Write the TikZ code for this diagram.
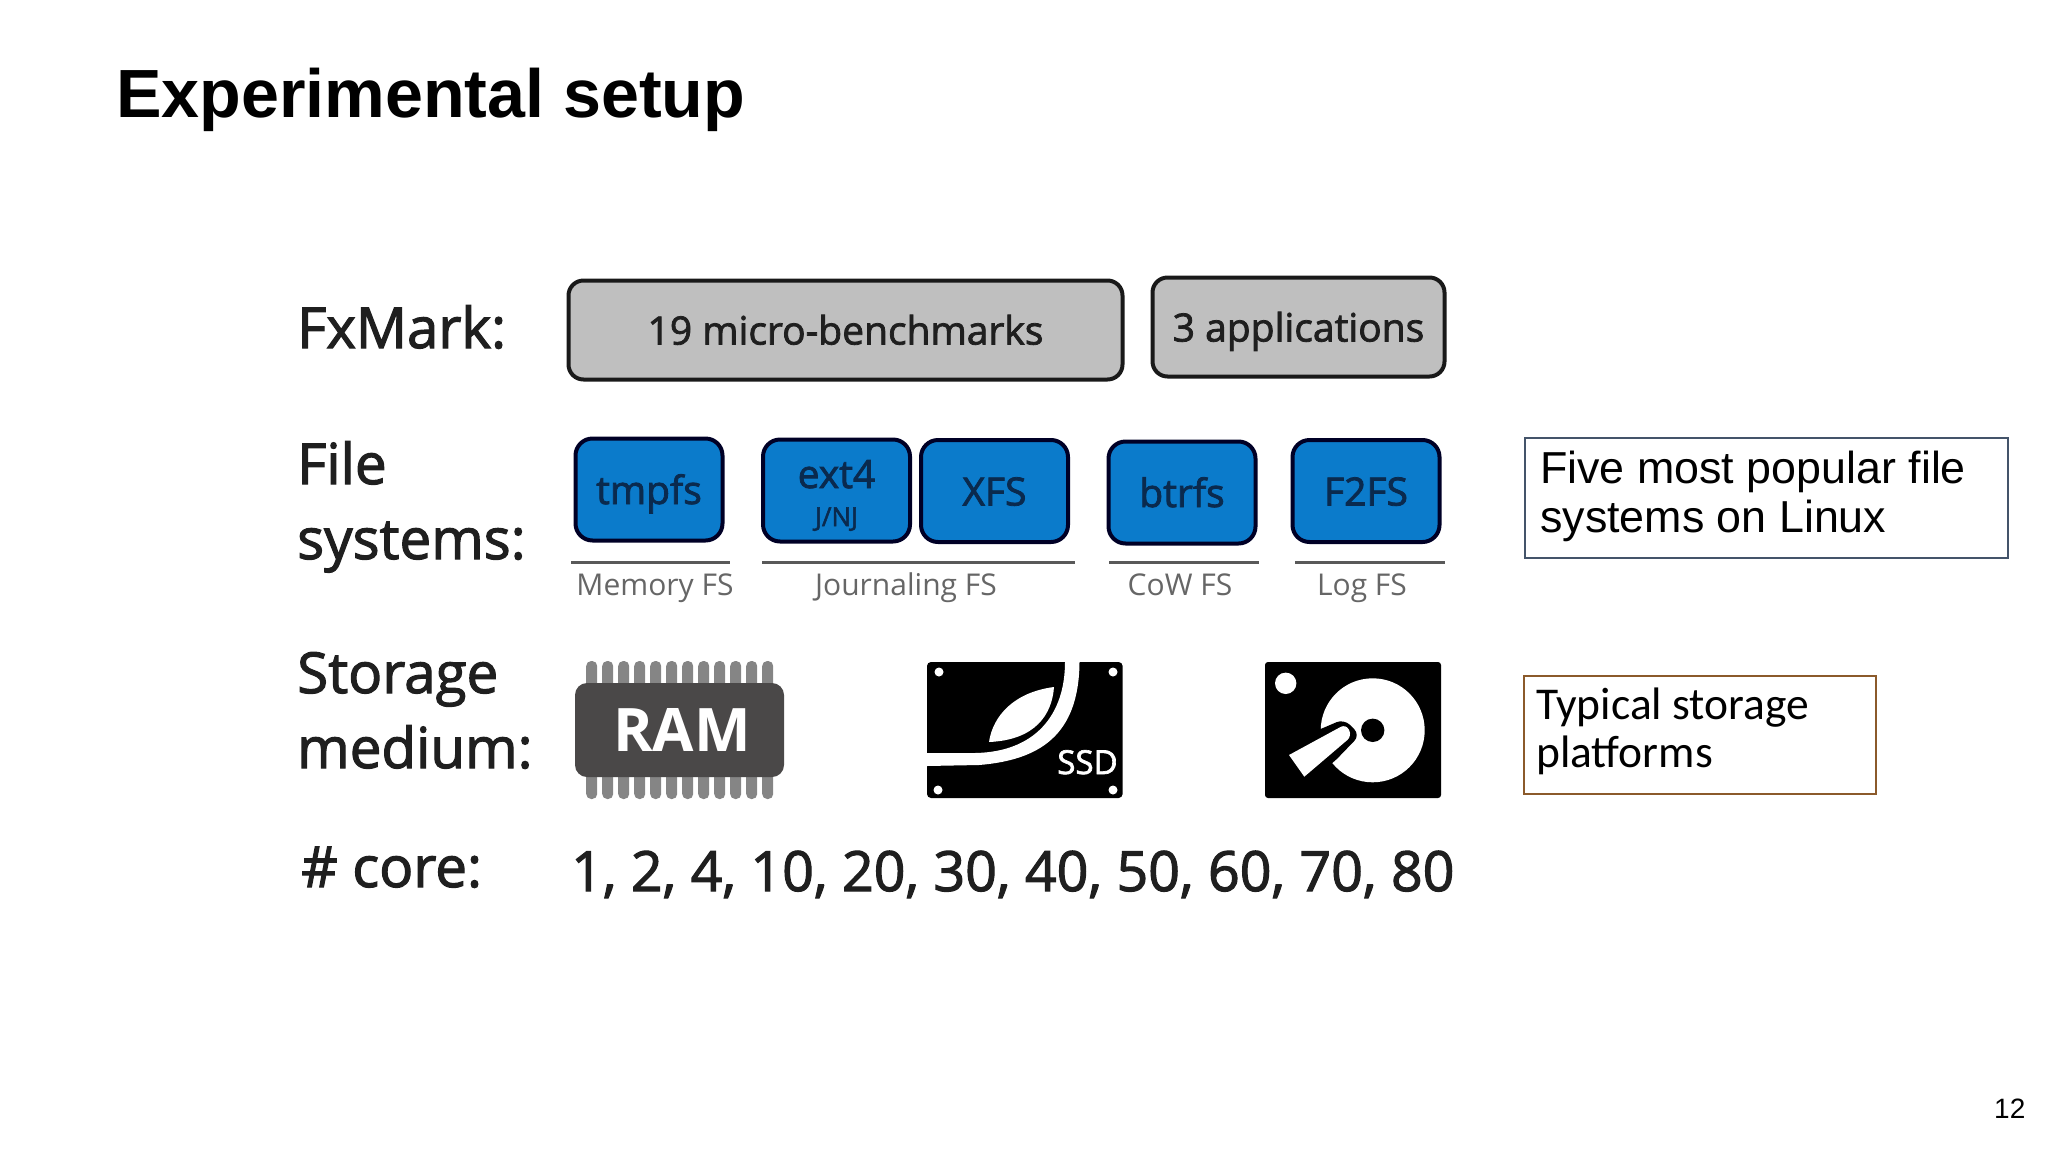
\documentclass[tikz,border=0pt]{standalone}
\usepackage{fontspec}
\usepackage{xcolor}
\usepackage{tikz}
\setmainfont{Liberation Sans}
\newfontfamily\opensans{Open Sans}
\newfontfamily\opensansb[FakeBold=2]{Open Sans}
\newfontfamily\carlito{Carlito}
\definecolor{fsblue}{HTML}{0B7BCB}
\definecolor{fsink}{HTML}{0A2A4E}
\definecolor{appgray}{HTML}{BFBFBF}
\definecolor{ramdark}{HTML}{4A4848}
\definecolor{rampin}{HTML}{858585}
\definecolor{notenavy}{HTML}{44546A}
\definecolor{notebrown}{HTML}{8B5A2B}
\tikzset{
    rowlabel/.style={anchor=base west, inner sep=0pt, align=left, text=black!88,
        font=\opensansb\fontsize{56.5}{75}\selectfont},
    appbox/.style={draw=black!90, fill=appgray, line width=4pt, rounded corners=15pt,
        inner sep=0pt, text height=29pt, text depth=0pt, text=black!88,
        font=\opensansb\fontsize{39}{46}\selectfont},
    fsbox/.style={draw=black!85!blue, fill=fsblue, line width=4pt, rounded corners=17pt,
        minimum width=147pt, minimum height=102pt, inner sep=0pt,
        text height=29pt, text depth=0pt, text=fsink,
        font=\opensansb\fontsize{39}{46}\selectfont},
    grouprule/.style={black!65, line width=3pt},
    grouplabel/.style={anchor=base, inner sep=0pt, text=black!60,
        font=\opensans\fontsize{30}{38}\selectfont},
    notebox/.style={anchor=north west, inner sep=0pt, align=left},
}

\begin{document}
\begin{tikzpicture}[x=1pt, y=-1pt]
    \useasboundingbox (0,0) rectangle (2048,1152);

    % title and page number
    \node[anchor=base west, inner sep=0pt, font=\bfseries\fontsize{68.2}{80}\selectfont] (title) at (116,117) {Experimental setup};
    \node[anchor=base west, inner sep=0pt, font=\fontsize{28}{32}\selectfont] (pagenum) at (1994,1118) {12};

    % row labels
    \node[rowlabel] (fxmark) at (297,348) {FxMark:};
    \node[rowlabel] (filesys) at (297,559) {File\\systems:};
    \node[rowlabel] (storage) at (297,768) {Storage\\medium:};
    \node[rowlabel] (core) at (301,887) {\# core:};

    % benchmark boxes
    \node[appbox, minimum width=554pt, minimum height=99pt] (micro) at (845.5,330) {19 micro-benchmarks};
    \node[appbox, minimum width=292pt, minimum height=99pt] (apps) at (1298.5,327) {3 applications};

    % file system boxes
    \node[fsbox] (tmpfs) at (649,489.5) {tmpfs};
    \node[fsbox, align=center, text height=71pt] (ext4) at (836.5,490.5) {ext4\\[-8pt]{\fontsize{26}{30}\selectfont J/NJ}};
    \node[fsbox] (xfs) at (994.5,491) {XFS};
    \node[fsbox] (btrfs) at (1182,492.5) {btrfs};
    \node[fsbox] (f2fs) at (1366,491) {F2FS};

    % group rules and their names
    \coordinate (memL) at (571,562);
    \coordinate (memR) at (730,562);
    \coordinate (jouL) at (762,562);
    \coordinate (jouR) at (1075,562);
    \coordinate (cowL) at (1109,562);
    \coordinate (cowR) at (1259,562);
    \coordinate (logL) at (1295,562);
    \coordinate (logR) at (1445,562);
    \draw[grouprule] (memL) -- (memR);
    \draw[grouprule] (jouL) -- (jouR);
    \draw[grouprule] (cowL) -- (cowR);
    \draw[grouprule] (logL) -- (logR);
    \node[grouplabel] (memfs) at (655,595) {Memory FS};
    \node[grouplabel] (jourfs) at (906,595) {Journaling FS};
    \node[grouplabel] (cowfs) at (1180,595) {CoW FS};
    \node[grouplabel] (logfs) at (1362,595) {Log FS};

    % RAM chip
    \foreach \i in {0,...,11} {
        \fill[rampin, rounded corners=5pt] ({586.2+16*\i},661) rectangle ++(11,138);
    }
    \fill[ramdark, rounded corners=12pt] (575,683) rectangle (784,777);
    \node[anchor=base, inner sep=0pt, white, font=\opensans\bfseries\fontsize{60}{70}\selectfont] (ram) at (682,751) {RAM};

    % SSD
    \fill[black, rounded corners=4pt] (927,662) rectangle (1122.6,798);
    \fill[white] (927,766) -- (979,765) .. controls (1040,760) and (1079,735) .. (1079.5,662)
        -- (1065,662) .. controls (1065,715) and (1035,752) .. (975,753) -- (927,753) -- cycle;
    \fill[white] (989,742) .. controls (993,715) and (1015,692) .. (1054,687)
        .. controls (1052,715) and (1035,740) .. (989,742) -- cycle;
    \fill[white] (939,672) circle (4.5pt);
    \fill[white] (1113,672) circle (4.5pt);
    \fill[white] (938,790) circle (4.5pt);
    \fill[white] (1113,790) circle (4.5pt);
    \node[anchor=base, inner sep=0pt, white, font=\opensansb\fontsize{33}{38}\selectfont] (ssd) at (1087.5,774) {SSD};

    % hard disk
    \fill[black, rounded corners=3pt] (1265,662) rectangle (1441,798);
    \fill[white] (1285.7,683.3) circle (10.7pt);
    \fill[white] (1372.7,730.3) circle (52pt);
    \fill[black] (1372.7,730.3) circle (11.7pt);
    \fill[black, rounded corners=8pt] (1320.7,729) -- (1344,719) -- (1360,735) -- (1332.7,763.3) -- (1300,785) -- (1280,745) -- cycle;
    \fill[white] (1289,755) -- (1304.3,776.7) [rounded corners=6pt] -- (1352,736) -- (1346,724) [sharp corners] -- cycle;

    % core counts
    \node[anchor=base west, inner sep=0pt, text=black!88, font=\opensansb\fontsize{55.5}{60}\selectfont] (counts) at (571,891) {1, 2, 4, 10, 20, 30, 40, 50, 60, 70, 80};

    % side notes
    \draw[notenavy, line width=2pt] (1525,438) rectangle (2008,558);
    \node[notebox, font=\fontsize{44.8}{49}\selectfont] (fivefs) at (1540,451) {Five most popular file\\systems on Linux};
    \draw[notebrown, line width=2pt] (1524,676) rectangle (1876,794);
    \node[notebox, font=\carlito\fontsize{45.5}{48}\selectfont] (typical) at (1536,688) {Typical storage\\platforms};
\end{tikzpicture}
\end{document}
